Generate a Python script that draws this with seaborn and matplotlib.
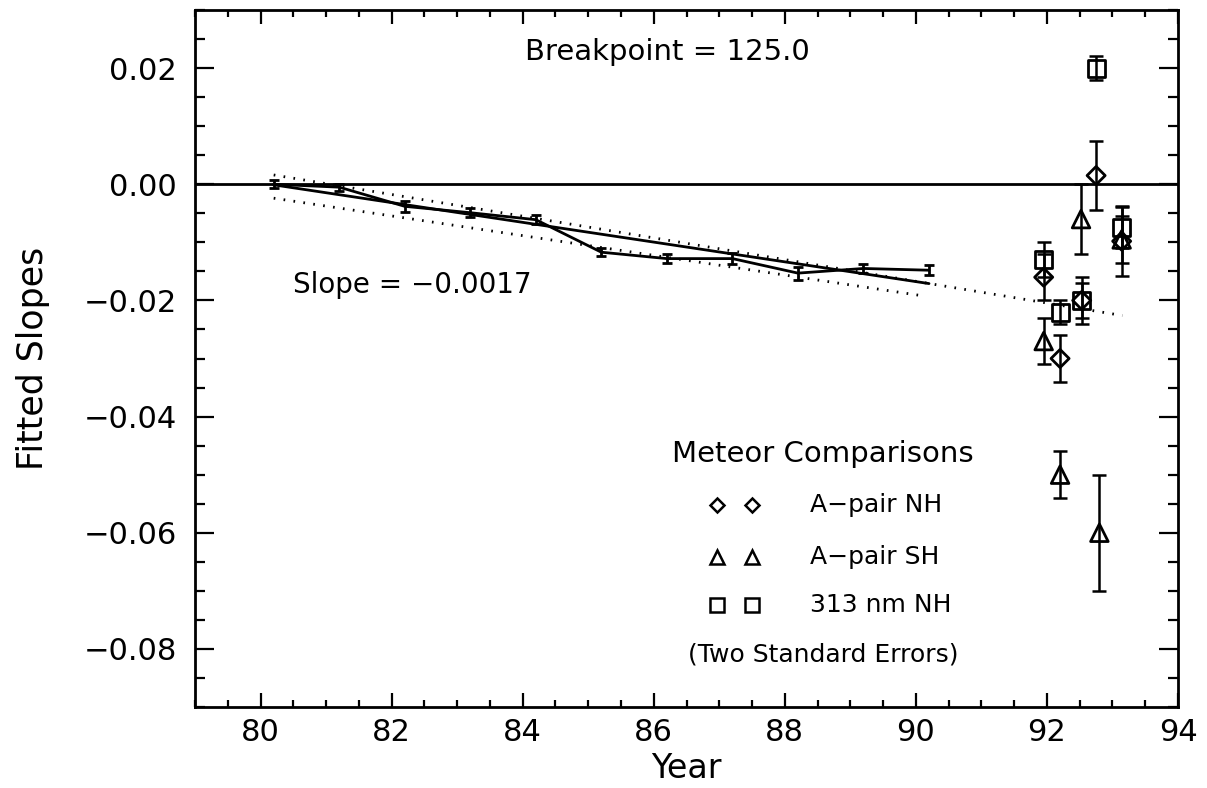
import matplotlib
matplotlib.use("Agg")
import numpy as np
import pandas as pd
import seaborn as sns
import matplotlib.pyplot as plt
from matplotlib.ticker import MultipleLocator, FixedLocator, FuncFormatter

# Yearly fitted slopes with two-standard-error bars
years = [80.2, 81.2, 82.2, 83.2, 84.2, 85.2, 86.2, 87.2, 88.2, 89.2, 90.2]
slopes = [0.0000, -0.0005, -0.0038, -0.0049, -0.0061, -0.0117,
          -0.0128, -0.0128, -0.0153, -0.0145, -0.0148]
slope_err = [0.0007, 0.0006, 0.0009, 0.0008, 0.0008, 0.0007,
             0.0008, 0.0010, 0.0011, 0.0008, 0.0009]

# Linear trend through the yearly slopes
trend_slope = -0.0017
trend_start = -0.0001
trend_years = [80.2, 90.2]

# Dotted reference lines
upper_years = [80.2, 93.15]
upper_vals = [0.0016, -0.0226]
lower_years = [80.2, 90.1]
lower_vals = [-0.0024, -0.0192]

# Meteor comparisons
nh_years = [91.95, 92.20, 92.53, 92.75, 93.14]
nh_vals = [-0.0160, -0.0300, -0.0200, 0.0015, -0.0098]
nh_err = [0.0040, 0.0040, 0.0030, 0.0060, 0.0060]

sh_years = [91.95, 92.20, 92.52, 92.80, 93.14]
sh_vals = [-0.0270, -0.0500, -0.0060, -0.0600, -0.0095]
sh_err = [0.0040, 0.0040, 0.0060, 0.0100, 0.0040]

uv_years = [91.95, 92.20, 92.53, 92.75, 93.14]
uv_vals = [-0.0130, -0.0220, -0.0200, 0.0200, -0.0075]
uv_err = [0.0030, 0.0020, 0.0040, 0.0020, 0.0035]

series_names = ["A\u2212pair NH", "A\u2212pair SH", "313 nm NH"]
x_ticks = [80, 82, 84, 86, 88, 90, 92, 94]
y_ticks = [-0.08, -0.06, -0.04, -0.02, 0.00, 0.02]

sns.set_theme(style="ticks")
plt.rcParams["font.family"] = ["DejaVu Sans"]
plt.rcParams["axes.unicode_minus"] = True

fig = plt.figure(figsize=(12.07, 7.88), dpi=100)
ax = fig.add_axes([0.1616, 0.1028, 0.8144, 0.8845])
ink = "black"
lw = 2.0

# zero line
ax.axhline(0.0, color=ink, lw=lw, zorder=2)

# yearly slopes joined by a line, with error bars
sns.lineplot(x=years, y=slopes, ax=ax, color=ink, lw=lw, sort=False, zorder=3)
ax.errorbar(years, slopes, yerr=slope_err, fmt="none", ecolor=ink,
            elinewidth=lw, capsize=3.5, capthick=lw, zorder=3)

# linear trend
trend_vals = [trend_start + trend_slope * (x - trend_years[0]) for x in trend_years]
sns.lineplot(x=trend_years, y=trend_vals, ax=ax, color=ink, lw=lw, zorder=3)

# dotted lines
dots = (0, (0.6, 3.0))
ax.plot(upper_years, upper_vals, color=ink, lw=2.0, ls=dots, zorder=2)
ax.plot(lower_years, lower_vals, color=ink, lw=2.0, ls=dots, zorder=2)

# meteor comparison points
groups = [
    (nh_years, nh_vals, nh_err, "D", 85),
    (sh_years, sh_vals, sh_err, "^", 160),
    (uv_years, uv_vals, uv_err, "s", 150),
]
for gx, gy, ge, mk, sz in groups:
    ax.errorbar(gx, gy, yerr=ge, fmt="none", ecolor=ink, elinewidth=1.8,
                capsize=5, capthick=1.8, zorder=4)
    sns.scatterplot(x=gx, y=gy, ax=ax, marker=mk, s=sz, facecolor="none",
                    edgecolor=ink, linewidth=2.0, zorder=5, legend=False)

# annotations
ax.text(86.2, 0.0227, "Breakpoint = 125.0", ha="center", va="center",
        fontsize=21, color=ink)
ax.text(82.32, -0.0174, "Slope = \u22120.0017", ha="center", va="center",
        fontsize=20, color=ink)

# key
ax.text(88.58, -0.0465, "Meteor Comparisons", ha="center", va="center",
        fontsize=21, color=ink)
key_rows = [-0.0552, -0.0642, -0.0724]
key_marks = [("D", 7.5), ("^", 10.5), ("s", 10.0)]
for row_y, (mk, ms), name in zip(key_rows, key_marks, series_names):
    ax.plot([86.96, 87.50], [row_y, row_y], ls="none", marker=mk, ms=ms,
            mfc="none", mec=ink, mew=1.8)
    ax.text(88.38, row_y, name, ha="left", va="center", fontsize=18, color=ink)
ax.text(88.58, -0.0809, "(Two Standard Errors)", ha="center", va="center",
        fontsize=18, color=ink)

# axes, ticks and labels
ax.set_xlim(79, 94)
ax.set_ylim(-0.09, 0.03)
ax.xaxis.set_major_locator(FixedLocator(x_ticks))
ax.xaxis.set_minor_locator(MultipleLocator(0.5))
ax.yaxis.set_major_locator(FixedLocator(y_ticks))
ax.yaxis.set_minor_locator(MultipleLocator(0.005))


def y_fmt(v, pos):
    if abs(v) < 1e-12:
        return "0.00"
    return f"{v:.2f}".replace("-", "\u2212")


ax.yaxis.set_major_formatter(FuncFormatter(y_fmt))
ax.xaxis.set_major_formatter(FuncFormatter(lambda v, p: f"{v:.0f}"))

ax.tick_params(which="both", direction="in", top=True, right=True,
               color=ink, width=1.6, labelcolor=ink)
ax.tick_params(axis="x", which="major", length=10, pad=8, labelsize=22)
ax.tick_params(axis="x", which="minor", length=5)
ax.tick_params(axis="y", which="major", length=14, pad=13, labelsize=22)
ax.tick_params(axis="y", which="minor", length=7)
for sp in ax.spines.values():
    sp.set_linewidth(2.0)
    sp.set_color(ink)

ax.set_xlabel("Year", fontsize=24, color=ink)
ax.set_ylabel("Fitted Slopes", fontsize=25, color=ink)
ax.xaxis.set_label_coords(0.5, -0.064)
ax.yaxis.set_label_coords(-0.148, 0.5)

fig.savefig("out.png", dpi=100, facecolor="white")
